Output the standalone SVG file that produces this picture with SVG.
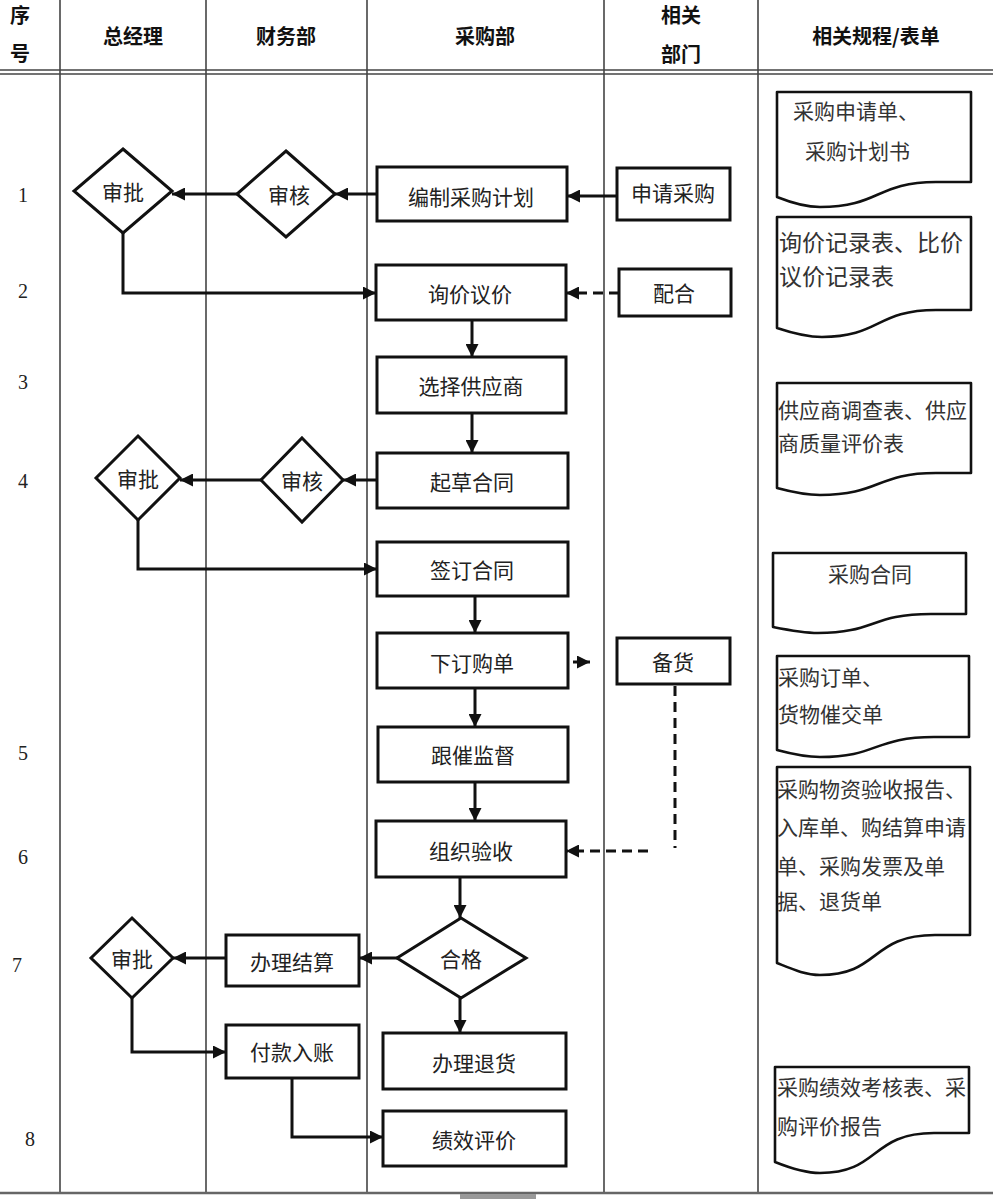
<svg xmlns="http://www.w3.org/2000/svg" width="993" height="1199" viewBox="0 0 993 1199">
<style>
.grid{stroke:#444;stroke-width:1.6;fill:none}
.hd{font-family:"Noto Sans CJK SC","Noto Sans CJK JP",sans-serif;font-weight:bold;font-size:20px;fill:#111;text-anchor:middle;dominant-baseline:central}
.num{font-family:"Liberation Serif",serif;font-size:20px;fill:#222;text-anchor:middle;dominant-baseline:central}
.box{fill:#fff;stroke:#111;stroke-width:3}
.lbl{font-family:"Noto Sans CJK SC","Noto Sans CJK JP",sans-serif;font-size:21px;fill:#222;text-anchor:middle;dominant-baseline:central}
.doc{fill:#fff;stroke:#111;stroke-width:2.6;stroke-linejoin:round}
.dt{font-family:"Noto Sans CJK SC","Noto Sans CJK JP",sans-serif;font-size:21px;fill:#333}
.c{fill:none;stroke:#111;stroke-width:3}
.d{fill:none;stroke:#111;stroke-width:3;stroke-dasharray:10 6}
</style>
<defs>
<marker id="ah" viewBox="0 0 12 12" refX="12" refY="6" markerWidth="13" markerHeight="13" markerUnits="userSpaceOnUse" orient="auto">
<path d="M0,0 L12,6 L0,12 z" fill="#111"/>
</marker>
</defs>
<rect x="0" y="0" width="993" height="1199" fill="#fff"/>
<g id="grid">
<line class="grid" x1="60" y1="0" x2="60" y2="1193"/>
<line class="grid" x1="206" y1="0" x2="206" y2="1193"/>
<line class="grid" x1="367" y1="0" x2="367" y2="1193"/>
<line class="grid" x1="604" y1="0" x2="604" y2="1193"/>
<line class="grid" x1="758" y1="0" x2="758" y2="1193"/>
<line class="grid" x1="0" y1="70" x2="993" y2="70"/>
<line class="grid" x1="0" y1="74" x2="993" y2="74"/>
<line x1="0" y1="1193" x2="993" y2="1193" stroke="#666" stroke-width="2.5"/>
<rect x="460" y="1194" width="76" height="5" fill="#999"/>
</g>
<g id="header">
<text class="hd" x="20" y="14">序</text>
<text class="hd" x="20" y="52">号</text>
<text class="hd" x="133" y="35">总经理</text>
<text class="hd" x="286" y="35">财务部</text>
<text class="hd" x="485" y="35">采购部</text>
<text class="hd" x="681" y="14">相关</text>
<text class="hd" x="681" y="53">部门</text>
<text class="hd" x="876" y="35">相关规程/表单</text>
</g>
<g id="rownums">
<text class="num" x="23" y="195">1</text>
<text class="num" x="23" y="291">2</text>
<text class="num" x="23" y="382">3</text>
<text class="num" x="23" y="481">4</text>
<text class="num" x="23" y="753">5</text>
<text class="num" x="23" y="857">6</text>
<text class="num" x="17" y="965">7</text>
<text class="num" x="30" y="1139">8</text>
</g>
<g id="connectors">
<line class="c" x1="617" y1="196" x2="567" y2="196" marker-end="url(#ah)"/>
<line class="c" x1="377" y1="194" x2="335" y2="194" marker-end="url(#ah)"/>
<line class="c" x1="237" y1="194" x2="172" y2="194" marker-end="url(#ah)"/>
<polyline class="c" points="123,233 123,293 376,293" marker-end="url(#ah)"/>
<line class="d" x1="619" y1="293" x2="566" y2="293" marker-end="url(#ah)"/>
<line class="c" x1="472" y1="320" x2="472" y2="357" marker-end="url(#ah)"/>
<line class="c" x1="472" y1="413" x2="472" y2="453" marker-end="url(#ah)"/>
<line class="c" x1="377" y1="480" x2="343" y2="480" marker-end="url(#ah)"/>
<line class="c" x1="261" y1="480" x2="180" y2="480" marker-end="url(#ah)"/>
<polyline class="c" points="138,520 138,569 377,569" marker-end="url(#ah)"/>
<line class="c" x1="475" y1="596" x2="475" y2="633" marker-end="url(#ah)"/>
<line class="c" x1="573" y1="662" x2="590" y2="662" marker-end="url(#ah)"/>
<line class="c" x1="475" y1="688" x2="475" y2="727" marker-end="url(#ah)"/>
<line class="c" x1="475" y1="782" x2="475" y2="821" marker-end="url(#ah)"/>
<line class="d" x1="675" y1="686" x2="675" y2="848"/>
<line class="d" x1="648" y1="851" x2="566" y2="851" marker-end="url(#ah)"/>
<line class="c" x1="460" y1="877" x2="460" y2="918" marker-end="url(#ah)"/>
<line class="c" x1="397" y1="958" x2="359" y2="958" marker-end="url(#ah)"/>
<line class="c" x1="226" y1="958" x2="173" y2="958" marker-end="url(#ah)"/>
<polyline class="c" points="132,998 132,1052 226,1052" marker-end="url(#ah)"/>
<line class="c" x1="460" y1="998" x2="460" y2="1033" marker-end="url(#ah)"/>
<polyline class="c" points="292,1078 292,1137 383,1137" marker-end="url(#ah)"/>
</g>
<g id="n-shenpi1"><polygon class="box" points="123,149 172,191 123,233 74,191"/><text class="lbl" x="123" y="191">审批</text></g>
<g id="n-shenhe1"><polygon class="box" points="286,151 335,194 286,237 237,194"/><text class="lbl" x="289" y="194">审核</text></g>
<g id="n-bianzhi"><rect class="box" x="377" y="167" width="190" height="54"/><text class="lbl" x="471" y="196">编制采购计划</text></g>
<g id="n-shenqing"><rect class="box" x="617" y="168" width="113" height="52"/><text class="lbl" x="673" y="192">申请采购</text></g>
<g id="n-xunjia"><rect class="box" x="376" y="265" width="190" height="55"/><text class="lbl" x="470" y="293">询价议价</text></g>
<g id="n-peihe"><rect class="box" x="619" y="269" width="112" height="47"/><text class="lbl" x="674" y="292">配合</text></g>
<g id="n-xuanze"><rect class="box" x="377" y="357" width="189" height="56"/><text class="lbl" x="471" y="385">选择供应商</text></g>
<g id="n-shenpi2"><polygon class="box" points="138,436 180,478 138,520 96,478"/><text class="lbl" x="138" y="478">审批</text></g>
<g id="n-shenhe2"><polygon class="box" points="302,438 343,480 302,522 261,480"/><text class="lbl" x="302" y="480">审核</text></g>
<g id="n-qicao"><rect class="box" x="377" y="453" width="191" height="55"/><text class="lbl" x="472" y="481">起草合同</text></g>
<g id="n-qianding"><rect class="box" x="377" y="542" width="191" height="54"/><text class="lbl" x="472" y="569">签订合同</text></g>
<g id="n-xiading"><rect class="box" x="377" y="633" width="191" height="55"/><text class="lbl" x="472" y="662">下订购单</text></g>
<g id="n-beihuo"><rect class="box" x="617" y="638" width="113" height="46"/><text class="lbl" x="673" y="661">备货</text></g>
<g id="n-gencui"><rect class="box" x="378" y="727" width="190" height="55"/><text class="lbl" x="473" y="754">跟催监督</text></g>
<g id="n-zuzhi"><rect class="box" x="376" y="821" width="190" height="56"/><text class="lbl" x="471" y="850">组织验收</text></g>
<g id="n-hege"><polygon class="box" points="461,918 526,958 461,998 397,958"/><text class="lbl" x="461" y="958">合格</text></g>
<g id="n-jiesuan"><rect class="box" x="226" y="935" width="133" height="51"/><text class="lbl" x="292" y="961">办理结算</text></g>
<g id="n-shenpi3"><polygon class="box" points="132,918 173,958 132,998 91,958"/><text class="lbl" x="132" y="958">审批</text></g>
<g id="n-fukuan"><rect class="box" x="226" y="1025" width="133" height="53"/><text class="lbl" x="292" y="1051">付款入账</text></g>
<g id="n-tuihuo"><rect class="box" x="383" y="1033" width="183" height="56"/><text class="lbl" x="474" y="1062">办理退货</text></g>
<g id="n-jixiao"><rect class="box" x="383" y="1111" width="183" height="55"/><text class="lbl" x="474" y="1139">绩效评价</text></g>
<g id="doc1"><path class="doc" d="M777,92 H971 V182 H936 C876,182 880,207 820,207 C805,207 792,203 777,197 Z"/><text class="dt" x="793" y="119" font-size="20">采购申请单、</text><text class="dt" x="805" y="159" font-size="20">采购计划书</text></g>
<g id="doc2"><path class="doc" d="M777,217 H971 V310 H936 C876,310 880,337 822,337 C806,337 792,333 777,328 Z"/><text class="dt" x="779" y="251" style="font-size:23px">询价记录表、比价</text><text class="dt" x="779" y="285" style="font-size:23px">议价记录表</text></g>
<g id="doc3"><path class="doc" d="M777,383 H971 V473 H936 C876,473 880,495 820,495 C805,495 792,492 777,488 Z"/><text class="dt" x="778" y="418">供应商调查表、供应</text><text class="dt" x="778" y="451">商质量评价表</text></g>
<g id="doc4"><path class="doc" d="M773,553 H966 V614 H931 C871,614 875,633 818,633 C803,633 788,630 773,627 Z"/><text class="dt" x="870" y="582" text-anchor="middle">采购合同</text></g>
<g id="doc5"><path class="doc" d="M777,656 H969 V737 H934 C874,737 878,757 820,757 C805,757 792,754 777,750 Z"/><text class="dt" x="778" y="685">采购订单、</text><text class="dt" x="778" y="722">货物催交单</text></g>
<g id="doc6"><path class="doc" d="M777,767 H970 V935 H935 C870,935 880,975 820,975 C805,975 792,969 777,963 Z"/><text class="dt" x="777" y="797">采购物资验收报告、</text><text class="dt" x="777" y="835">入库单、购结算申请</text><text class="dt" x="777" y="874">单、采购发票及单</text><text class="dt" x="777" y="909">据、退货单</text></g>
<g id="doc7"><path class="doc" d="M775,1067 H969 V1133 H934 C870,1133 880,1173 820,1173 C805,1173 790,1168 775,1162 Z"/><text class="dt" x="777" y="1095">采购绩效考核表、采</text><text class="dt" x="777" y="1134">购评价报告</text></g>
</svg>
